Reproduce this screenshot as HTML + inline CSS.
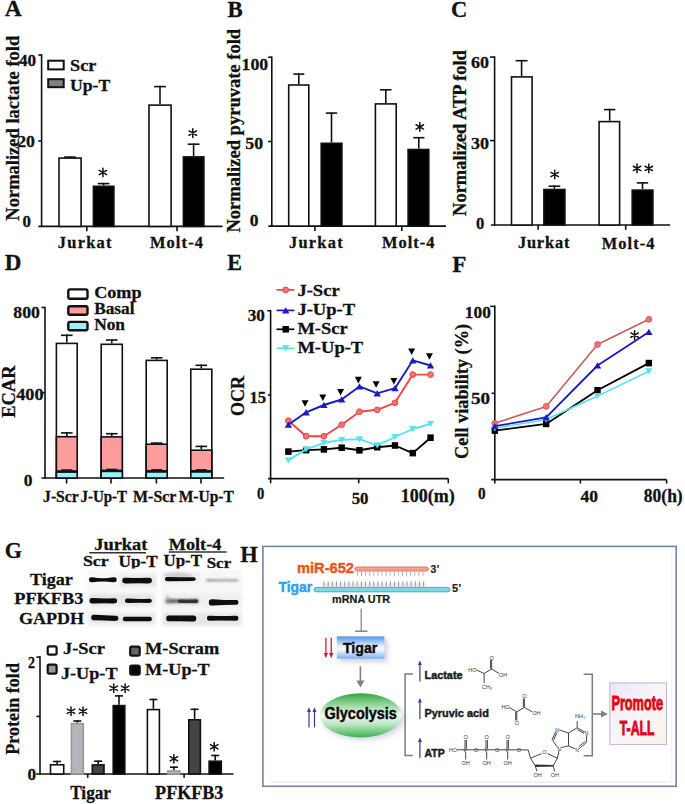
<!DOCTYPE html>
<html><head><meta charset="utf-8"><style>
html,body{margin:0;padding:0;background:#fff;}
svg{display:block;}
</style></head><body>
<svg width="685" height="804" viewBox="0 0 685 804">
<rect width="685" height="804" fill="#fff"/>
<text x="4.80" y="15.60" font-size="23.6" font-family="'Liberation Serif', serif" font-weight="bold" fill="#111" stroke="#111" stroke-width="0.28" textLength="17.10" lengthAdjust="spacingAndGlyphs" >A</text>
<text x="18.80" y="220.70" font-size="18.5" font-family="'Liberation Serif', serif" font-weight="bold" fill="#111" stroke="#111" stroke-width="0.28" textLength="185.00" lengthAdjust="spacingAndGlyphs" transform="rotate(-90 18.80 220.70)" >Normalized lactate fold</text>
<line x1="41.60" y1="54.20" x2="41.60" y2="227.20" stroke="#111" stroke-width="1.6" />
<line x1="38.30" y1="55.00" x2="41.60" y2="55.00" stroke="#111" stroke-width="1.6" />
<line x1="38.30" y1="141.00" x2="41.60" y2="141.00" stroke="#111" stroke-width="1.6" />
<line x1="38.30" y1="226.40" x2="222.50" y2="226.40" stroke="#111" stroke-width="1.6" />
<line x1="86.80" y1="226.40" x2="86.80" y2="231.20" stroke="#111" stroke-width="1.6" />
<line x1="177.00" y1="226.40" x2="177.00" y2="231.20" stroke="#111" stroke-width="1.6" />
<text x="19.00" y="65.80" font-size="17.2" font-family="'Liberation Serif', serif" font-weight="bold" fill="#111" stroke="#111" stroke-width="0.28" textLength="17.10" lengthAdjust="spacingAndGlyphs" >40</text>
<text x="17.20" y="147.40" font-size="17.2" font-family="'Liberation Serif', serif" font-weight="bold" fill="#111" stroke="#111" stroke-width="0.28" textLength="17.80" lengthAdjust="spacingAndGlyphs" >20</text>
<text x="22.60" y="227.00" font-size="17.2" font-family="'Liberation Serif', serif" font-weight="bold" fill="#111" stroke="#111" stroke-width="0.28" textLength="8.40" lengthAdjust="spacingAndGlyphs" >0</text>
<rect x="48.20" y="60.70" width="15.50" height="8.70" fill="#fff" stroke="#111" stroke-width="2" />
<rect x="48.20" y="79.20" width="15.50" height="8.00" fill="#808080" stroke="#111" stroke-width="2" />
<text x="70.10" y="71.00" font-size="17.4" font-family="'Liberation Serif', serif" font-weight="bold" fill="#111" stroke="#111" stroke-width="0.28" textLength="26.30" lengthAdjust="spacingAndGlyphs" >Scr</text>
<text x="70.00" y="91.40" font-size="17.4" font-family="'Liberation Serif', serif" font-weight="bold" fill="#111" stroke="#111" stroke-width="0.28" textLength="40.30" lengthAdjust="spacingAndGlyphs" >Up-T</text>
<rect x="59.00" y="158.10" width="22.10" height="68.30" fill="#fff" stroke="#111" stroke-width="1.6" />
<line x1="70.00" y1="157.30" x2="70.00" y2="156.30" stroke="#111" stroke-width="1.6" />
<line x1="64.10" y1="157.10" x2="75.90" y2="157.10" stroke="#111" stroke-width="1.6" />
<rect x="93.40" y="186.30" width="20.50" height="40.10" fill="#000" stroke="#111" stroke-width="1.6" />
<line x1="103.60" y1="185.50" x2="103.60" y2="182.80" stroke="#111" stroke-width="1.6" />
<line x1="97.70" y1="183.60" x2="109.50" y2="183.60" stroke="#111" stroke-width="1.6" />
<rect x="149.00" y="105.10" width="22.10" height="121.30" fill="#fff" stroke="#111" stroke-width="1.6" />
<line x1="160.00" y1="104.30" x2="160.00" y2="85.80" stroke="#111" stroke-width="1.6" />
<line x1="154.10" y1="86.60" x2="165.90" y2="86.60" stroke="#111" stroke-width="1.6" />
<rect x="183.40" y="156.90" width="20.50" height="69.50" fill="#000" stroke="#111" stroke-width="1.6" />
<line x1="193.60" y1="156.10" x2="193.60" y2="143.40" stroke="#111" stroke-width="1.6" />
<line x1="187.70" y1="144.20" x2="199.50" y2="144.20" stroke="#111" stroke-width="1.6" />
<path d="M102.90,168.20L102.90,176.80M99.18,170.35L106.62,174.65M99.18,174.65L106.62,170.35" stroke="#111" stroke-width="1.5" stroke-linecap="round" fill="none"/>
<path d="M192.80,128.80L192.80,137.40M189.08,130.95L196.52,135.25M189.08,135.25L196.52,130.95" stroke="#111" stroke-width="1.5" stroke-linecap="round" fill="none"/>
<text x="57.80" y="248.00" font-size="16.4" font-family="'Liberation Serif', serif" font-weight="bold" fill="#111" stroke="#111" stroke-width="0.28" textLength="53.70" lengthAdjust="spacing" >Jurkat</text>
<text x="149.90" y="248.20" font-size="16.4" font-family="'Liberation Serif', serif" font-weight="bold" fill="#111" stroke="#111" stroke-width="0.28" textLength="53.10" lengthAdjust="spacing" >Molt-4</text>
<text x="227.40" y="16.60" font-size="23.2" font-family="'Liberation Serif', serif" font-weight="bold" fill="#111" stroke="#111" stroke-width="0.28" textLength="15.20" lengthAdjust="spacingAndGlyphs" >B</text>
<text x="240.00" y="232.60" font-size="18.5" font-family="'Liberation Serif', serif" font-weight="bold" fill="#111" stroke="#111" stroke-width="0.28" textLength="203.70" lengthAdjust="spacingAndGlyphs" transform="rotate(-90 240.00 232.60)" >Normalized pyruvate fold</text>
<line x1="271.80" y1="56.40" x2="271.80" y2="226.90" stroke="#111" stroke-width="1.6" />
<line x1="268.10" y1="57.20" x2="271.80" y2="57.20" stroke="#111" stroke-width="1.6" />
<line x1="268.10" y1="141.50" x2="271.80" y2="141.50" stroke="#111" stroke-width="1.6" />
<line x1="268.30" y1="226.10" x2="446.00" y2="226.10" stroke="#111" stroke-width="1.6" />
<line x1="314.90" y1="226.10" x2="314.90" y2="231.00" stroke="#111" stroke-width="1.6" />
<line x1="401.80" y1="226.10" x2="401.80" y2="231.00" stroke="#111" stroke-width="1.6" />
<text x="241.60" y="69.70" font-size="17.2" font-family="'Liberation Serif', serif" font-weight="bold" fill="#111" stroke="#111" stroke-width="0.28" textLength="26.60" lengthAdjust="spacingAndGlyphs" >100</text>
<text x="245.30" y="148.50" font-size="17.2" font-family="'Liberation Serif', serif" font-weight="bold" fill="#111" stroke="#111" stroke-width="0.28" textLength="17.80" lengthAdjust="spacingAndGlyphs" >50</text>
<text x="249.80" y="226.20" font-size="17.2" font-family="'Liberation Serif', serif" font-weight="bold" fill="#111" stroke="#111" stroke-width="0.28" textLength="8.70" lengthAdjust="spacingAndGlyphs" >0</text>
<rect x="288.70" y="85.00" width="20.10" height="141.10" fill="#fff" stroke="#111" stroke-width="1.6" />
<line x1="298.80" y1="84.20" x2="298.80" y2="73.30" stroke="#111" stroke-width="1.6" />
<line x1="293.30" y1="74.10" x2="304.30" y2="74.10" stroke="#111" stroke-width="1.6" />
<rect x="321.20" y="143.30" width="20.70" height="82.80" fill="#000" stroke="#111" stroke-width="1.6" />
<line x1="331.50" y1="142.50" x2="331.50" y2="112.30" stroke="#111" stroke-width="1.6" />
<line x1="325.80" y1="113.10" x2="337.20" y2="113.10" stroke="#111" stroke-width="1.6" />
<rect x="375.40" y="103.90" width="20.80" height="122.20" fill="#fff" stroke="#111" stroke-width="1.6" />
<line x1="385.80" y1="103.10" x2="385.80" y2="89.00" stroke="#111" stroke-width="1.6" />
<line x1="380.10" y1="89.80" x2="391.50" y2="89.80" stroke="#111" stroke-width="1.6" />
<rect x="408.10" y="149.50" width="20.70" height="76.60" fill="#000" stroke="#111" stroke-width="1.6" />
<line x1="418.80" y1="148.70" x2="418.80" y2="136.90" stroke="#111" stroke-width="1.6" />
<line x1="413.20" y1="137.70" x2="424.40" y2="137.70" stroke="#111" stroke-width="1.6" />
<path d="M419.80,122.60L419.80,131.20M416.08,124.75L423.52,129.05M416.08,129.05L423.52,124.75" stroke="#111" stroke-width="1.5" stroke-linecap="round" fill="none"/>
<text x="289.00" y="248.00" font-size="16.4" font-family="'Liberation Serif', serif" font-weight="bold" fill="#111" stroke="#111" stroke-width="0.28" textLength="53.60" lengthAdjust="spacing" >Jurkat</text>
<text x="381.90" y="248.20" font-size="16.4" font-family="'Liberation Serif', serif" font-weight="bold" fill="#111" stroke="#111" stroke-width="0.28" textLength="52.50" lengthAdjust="spacing" >Molt-4</text>
<text x="451.00" y="16.60" font-size="23.4" font-family="'Liberation Serif', serif" font-weight="bold" fill="#111" stroke="#111" stroke-width="0.28" textLength="16.30" lengthAdjust="spacingAndGlyphs" >C</text>
<text x="466.00" y="215.90" font-size="18.5" font-family="'Liberation Serif', serif" font-weight="bold" fill="#111" stroke="#111" stroke-width="0.28" textLength="165.80" lengthAdjust="spacingAndGlyphs" transform="rotate(-90 466.00 215.90)" >Normalized ATP fold</text>
<line x1="494.60" y1="56.30" x2="494.60" y2="225.80" stroke="#111" stroke-width="1.6" />
<line x1="490.00" y1="57.10" x2="494.60" y2="57.10" stroke="#111" stroke-width="1.6" />
<line x1="490.00" y1="140.60" x2="494.60" y2="140.60" stroke="#111" stroke-width="1.6" />
<line x1="491.00" y1="225.00" x2="670.10" y2="225.00" stroke="#111" stroke-width="1.6" />
<line x1="538.10" y1="225.00" x2="538.10" y2="229.80" stroke="#111" stroke-width="1.6" />
<line x1="625.70" y1="225.00" x2="625.70" y2="229.80" stroke="#111" stroke-width="1.6" />
<text x="470.90" y="68.00" font-size="17.2" font-family="'Liberation Serif', serif" font-weight="bold" fill="#111" stroke="#111" stroke-width="0.28" textLength="18.00" lengthAdjust="spacingAndGlyphs" >60</text>
<text x="471.00" y="149.10" font-size="17.2" font-family="'Liberation Serif', serif" font-weight="bold" fill="#111" stroke="#111" stroke-width="0.28" textLength="18.00" lengthAdjust="spacingAndGlyphs" >30</text>
<text x="476.10" y="229.10" font-size="17.2" font-family="'Liberation Serif', serif" font-weight="bold" fill="#111" stroke="#111" stroke-width="0.28" textLength="8.30" lengthAdjust="spacingAndGlyphs" >0</text>
<rect x="511.50" y="76.90" width="20.60" height="148.10" fill="#fff" stroke="#111" stroke-width="1.6" />
<line x1="521.60" y1="76.10" x2="521.60" y2="59.90" stroke="#111" stroke-width="1.6" />
<line x1="515.65" y1="60.70" x2="527.55" y2="60.70" stroke="#111" stroke-width="1.6" />
<rect x="543.90" y="189.50" width="21.00" height="35.50" fill="#000" stroke="#111" stroke-width="1.6" />
<line x1="554.40" y1="188.70" x2="554.40" y2="185.40" stroke="#111" stroke-width="1.6" />
<line x1="548.60" y1="186.20" x2="560.20" y2="186.20" stroke="#111" stroke-width="1.6" />
<rect x="599.10" y="121.60" width="20.50" height="103.40" fill="#fff" stroke="#111" stroke-width="1.6" />
<line x1="609.70" y1="120.80" x2="609.70" y2="108.80" stroke="#111" stroke-width="1.6" />
<line x1="604.00" y1="109.60" x2="615.40" y2="109.60" stroke="#111" stroke-width="1.6" />
<rect x="632.20" y="190.10" width="20.70" height="34.90" fill="#000" stroke="#111" stroke-width="1.6" />
<line x1="642.50" y1="189.30" x2="642.50" y2="182.10" stroke="#111" stroke-width="1.6" />
<line x1="636.85" y1="182.90" x2="648.15" y2="182.90" stroke="#111" stroke-width="1.6" />
<path d="M554.70,170.20L554.70,178.80M550.98,172.35L558.42,176.65M550.98,176.65L558.42,172.35" stroke="#111" stroke-width="1.5" stroke-linecap="round" fill="none"/>
<path d="M637.00,164.10L637.00,172.70M633.28,166.25L640.72,170.55M633.28,170.55L640.72,166.25" stroke="#111" stroke-width="1.5" stroke-linecap="round" fill="none"/>
<path d="M648.80,164.10L648.80,172.70M645.08,166.25L652.52,170.55M645.08,170.55L652.52,166.25" stroke="#111" stroke-width="1.5" stroke-linecap="round" fill="none"/>
<text x="517.90" y="248.40" font-size="16.4" font-family="'Liberation Serif', serif" font-weight="bold" fill="#111" stroke="#111" stroke-width="0.28" textLength="51.50" lengthAdjust="spacing" >Jurkat</text>
<text x="601.80" y="248.60" font-size="16.4" font-family="'Liberation Serif', serif" font-weight="bold" fill="#111" stroke="#111" stroke-width="0.28" textLength="52.60" lengthAdjust="spacing" >Molt-4</text>
<text x="4.70" y="269.80" font-size="23.6" font-family="'Liberation Serif', serif" font-weight="bold" fill="#111" stroke="#111" stroke-width="0.28" textLength="16.60" lengthAdjust="spacingAndGlyphs" >D</text>
<text x="14.90" y="417.70" font-size="18.5" font-family="'Liberation Serif', serif" font-weight="bold" fill="#111" stroke="#111" stroke-width="0.28" textLength="52.20" lengthAdjust="spacingAndGlyphs" transform="rotate(-90 14.90 417.70)" >ECAR</text>
<line x1="45.00" y1="306.70" x2="45.00" y2="478.80" stroke="#111" stroke-width="1.6" />
<line x1="41.40" y1="307.50" x2="45.00" y2="307.50" stroke="#111" stroke-width="1.6" />
<line x1="41.40" y1="392.70" x2="45.00" y2="392.70" stroke="#111" stroke-width="1.6" />
<line x1="41.50" y1="478.00" x2="224.20" y2="478.00" stroke="#111" stroke-width="1.6" />
<line x1="66.60" y1="478.00" x2="66.60" y2="483.50" stroke="#111" stroke-width="1.6" />
<line x1="111.00" y1="478.00" x2="111.00" y2="483.50" stroke="#111" stroke-width="1.6" />
<line x1="156.40" y1="478.00" x2="156.40" y2="483.50" stroke="#111" stroke-width="1.6" />
<line x1="201.00" y1="478.00" x2="201.00" y2="483.50" stroke="#111" stroke-width="1.6" />
<text x="13.30" y="318.30" font-size="17.2" font-family="'Liberation Serif', serif" font-weight="bold" fill="#111" stroke="#111" stroke-width="0.28" textLength="26.60" lengthAdjust="spacingAndGlyphs" >800</text>
<text x="16.20" y="400.20" font-size="17.2" font-family="'Liberation Serif', serif" font-weight="bold" fill="#111" stroke="#111" stroke-width="0.28" textLength="27.30" lengthAdjust="spacingAndGlyphs" >400</text>
<text x="23.70" y="485.50" font-size="17.2" font-family="'Liberation Serif', serif" font-weight="bold" fill="#111" stroke="#111" stroke-width="0.28" textLength="8.70" lengthAdjust="spacingAndGlyphs" >0</text>
<rect x="68.30" y="289.40" width="19.20" height="9.40" fill="#fff" stroke="#111" stroke-width="2.4" rx="1.8"/>
<rect x="68.30" y="306.20" width="19.20" height="8.60" fill="#fc9c9c" stroke="#111" stroke-width="2.4" rx="1.8"/>
<rect x="68.30" y="321.90" width="19.20" height="8.40" fill="#98f2f8" stroke="#111" stroke-width="2.4" rx="1.8"/>
<text x="94.20" y="298.20" font-size="17" font-family="'Liberation Serif', serif" font-weight="bold" fill="#111" stroke="#111" stroke-width="0.28" textLength="47.40" lengthAdjust="spacingAndGlyphs" >Comp</text>
<text x="94.20" y="314.30" font-size="17" font-family="'Liberation Serif', serif" font-weight="bold" fill="#111" stroke="#111" stroke-width="0.28" textLength="40.30" lengthAdjust="spacingAndGlyphs" >Basal</text>
<text x="94.20" y="330.40" font-size="17" font-family="'Liberation Serif', serif" font-weight="bold" fill="#111" stroke="#111" stroke-width="0.28" textLength="30.80" lengthAdjust="spacingAndGlyphs" >Non</text>
<rect x="56.40" y="343.40" width="20.80" height="134.60" fill="#fff" stroke="#111" stroke-width="1.6" />
<line x1="66.80" y1="342.60" x2="66.80" y2="334.50" stroke="#111" stroke-width="1.6" />
<line x1="61.00" y1="335.30" x2="72.60" y2="335.30" stroke="#111" stroke-width="1.6" />
<rect x="56.40" y="436.70" width="20.80" height="41.30" fill="#fc9c9c" stroke="#111" stroke-width="1.6"/>
<line x1="66.80" y1="435.90" x2="66.80" y2="432.10" stroke="#111" stroke-width="1.6" />
<line x1="61.00" y1="432.90" x2="72.60" y2="432.90" stroke="#111" stroke-width="1.6" />
<rect x="56.40" y="472.00" width="20.80" height="6.00" fill="#98f2f8" stroke="#111" stroke-width="1.6"/>
<line x1="56.40" y1="471.40" x2="77.20" y2="471.40" stroke="#111" stroke-width="2.4" />
<line x1="61.30" y1="470.00" x2="72.30" y2="470.00" stroke="#111" stroke-width="1.4" />
<rect x="101.20" y="344.30" width="21.10" height="133.70" fill="#fff" stroke="#111" stroke-width="1.6" />
<line x1="111.75" y1="343.50" x2="111.75" y2="339.20" stroke="#111" stroke-width="1.6" />
<line x1="105.95" y1="340.00" x2="117.55" y2="340.00" stroke="#111" stroke-width="1.6" />
<rect x="101.20" y="436.90" width="21.10" height="41.10" fill="#fc9c9c" stroke="#111" stroke-width="1.6"/>
<line x1="111.75" y1="436.10" x2="111.75" y2="432.90" stroke="#111" stroke-width="1.6" />
<line x1="105.95" y1="433.70" x2="117.55" y2="433.70" stroke="#111" stroke-width="1.6" />
<rect x="101.20" y="471.40" width="21.10" height="6.60" fill="#98f2f8" stroke="#111" stroke-width="1.6"/>
<line x1="101.20" y1="470.80" x2="122.30" y2="470.80" stroke="#111" stroke-width="2.4" />
<line x1="106.25" y1="469.40" x2="117.25" y2="469.40" stroke="#111" stroke-width="1.4" />
<rect x="146.20" y="360.40" width="21.00" height="117.60" fill="#fff" stroke="#111" stroke-width="1.6" />
<line x1="156.70" y1="359.60" x2="156.70" y2="357.00" stroke="#111" stroke-width="1.6" />
<line x1="150.90" y1="357.80" x2="162.50" y2="357.80" stroke="#111" stroke-width="1.6" />
<rect x="146.20" y="444.20" width="21.00" height="33.80" fill="#fc9c9c" stroke="#111" stroke-width="1.6"/>
<line x1="156.70" y1="443.40" x2="156.70" y2="442.30" stroke="#111" stroke-width="1.6" />
<line x1="150.90" y1="443.10" x2="162.50" y2="443.10" stroke="#111" stroke-width="1.6" />
<rect x="146.20" y="471.80" width="21.00" height="6.20" fill="#98f2f8" stroke="#111" stroke-width="1.6"/>
<line x1="146.20" y1="471.20" x2="167.20" y2="471.20" stroke="#111" stroke-width="2.4" />
<line x1="151.20" y1="469.80" x2="162.20" y2="469.80" stroke="#111" stroke-width="1.4" />
<rect x="190.80" y="369.20" width="21.00" height="108.80" fill="#fff" stroke="#111" stroke-width="1.6" />
<line x1="201.30" y1="368.40" x2="201.30" y2="364.50" stroke="#111" stroke-width="1.6" />
<line x1="195.50" y1="365.30" x2="207.10" y2="365.30" stroke="#111" stroke-width="1.6" />
<rect x="190.80" y="450.20" width="21.00" height="27.80" fill="#fc9c9c" stroke="#111" stroke-width="1.6"/>
<line x1="201.30" y1="449.40" x2="201.30" y2="445.60" stroke="#111" stroke-width="1.6" />
<line x1="195.50" y1="446.40" x2="207.10" y2="446.40" stroke="#111" stroke-width="1.6" />
<rect x="190.80" y="471.80" width="21.00" height="6.20" fill="#98f2f8" stroke="#111" stroke-width="1.6"/>
<line x1="190.80" y1="471.20" x2="211.80" y2="471.20" stroke="#111" stroke-width="2.4" />
<line x1="195.80" y1="469.80" x2="206.80" y2="469.80" stroke="#111" stroke-width="1.4" />
<text x="43.10" y="501.50" font-size="16" font-family="'Liberation Serif', serif" font-weight="bold" fill="#111" stroke="#111" stroke-width="0.28" textLength="35.50" lengthAdjust="spacingAndGlyphs" >J-Scr</text>
<text x="80.40" y="501.50" font-size="16" font-family="'Liberation Serif', serif" font-weight="bold" fill="#111" stroke="#111" stroke-width="0.28" textLength="46.70" lengthAdjust="spacingAndGlyphs" >J-Up-T</text>
<text x="133.10" y="501.50" font-size="16" font-family="'Liberation Serif', serif" font-weight="bold" fill="#111" stroke="#111" stroke-width="0.28" textLength="43.30" lengthAdjust="spacingAndGlyphs" >M-Scr</text>
<text x="178.70" y="501.50" font-size="16" font-family="'Liberation Serif', serif" font-weight="bold" fill="#111" stroke="#111" stroke-width="0.28" textLength="55.20" lengthAdjust="spacingAndGlyphs" >M-Up-T</text>
<text x="227.20" y="270.10" font-size="23.6" font-family="'Liberation Serif', serif" font-weight="bold" fill="#111" stroke="#111" stroke-width="0.28" textLength="14.80" lengthAdjust="spacingAndGlyphs" >E</text>
<text x="243.80" y="416.10" font-size="18.5" font-family="'Liberation Serif', serif" font-weight="bold" fill="#111" stroke="#111" stroke-width="0.28" textLength="40.30" lengthAdjust="spacingAndGlyphs" transform="rotate(-90 243.80 416.10)" >OCR</text>
<line x1="270.60" y1="309.90" x2="270.60" y2="479.40" stroke="#111" stroke-width="1.6" />
<line x1="267.30" y1="310.70" x2="270.60" y2="310.70" stroke="#111" stroke-width="1.6" />
<line x1="267.90" y1="395.00" x2="270.60" y2="395.00" stroke="#111" stroke-width="1.6" />
<line x1="268.00" y1="478.60" x2="448.30" y2="478.60" stroke="#111" stroke-width="1.6" />
<line x1="270.60" y1="478.60" x2="270.60" y2="483.30" stroke="#111" stroke-width="1.6" />
<line x1="358.70" y1="478.60" x2="358.70" y2="483.30" stroke="#111" stroke-width="1.6" />
<line x1="448.30" y1="478.60" x2="448.30" y2="483.30" stroke="#111" stroke-width="1.6" />
<text x="247.80" y="321.30" font-size="17.2" font-family="'Liberation Serif', serif" font-weight="bold" fill="#111" stroke="#111" stroke-width="0.28" textLength="17.10" lengthAdjust="spacingAndGlyphs" >30</text>
<text x="249.50" y="403.20" font-size="17.2" font-family="'Liberation Serif', serif" font-weight="bold" fill="#111" stroke="#111" stroke-width="0.28" textLength="16.70" lengthAdjust="spacingAndGlyphs" >15</text>
<text x="256.90" y="499.10" font-size="17.2" font-family="'Liberation Serif', serif" font-weight="bold" fill="#111" stroke="#111" stroke-width="0.28" textLength="7.30" lengthAdjust="spacingAndGlyphs" >0</text>
<text x="351.70" y="503.90" font-size="17.2" font-family="'Liberation Serif', serif" font-weight="bold" fill="#111" stroke="#111" stroke-width="0.28" textLength="16.80" lengthAdjust="spacingAndGlyphs" >50</text>
<text x="400.80" y="501.50" font-size="18" font-family="'Liberation Serif', serif" font-weight="bold" fill="#111" stroke="#111" stroke-width="0.28" textLength="53.90" lengthAdjust="spacingAndGlyphs" >100(m)</text>
<polyline points="288.37,451.60 306.14,450.10 323.91,449.40 341.68,447.70 359.45,450.30 377.22,447.20 394.99,445.50 412.76,453.10 430.53,437.70" fill="none" stroke="#000" stroke-width="1.9" stroke-linejoin="round"/>
<rect x="285.17" y="448.30" width="6.4" height="6.6" fill="#000"/>
<rect x="302.94" y="446.80" width="6.4" height="6.6" fill="#000"/>
<rect x="320.71" y="446.10" width="6.4" height="6.6" fill="#000"/>
<rect x="338.48" y="444.40" width="6.4" height="6.6" fill="#000"/>
<rect x="356.25" y="447.00" width="6.4" height="6.6" fill="#000"/>
<rect x="374.02" y="443.90" width="6.4" height="6.6" fill="#000"/>
<rect x="391.79" y="442.20" width="6.4" height="6.6" fill="#000"/>
<rect x="409.56" y="449.80" width="6.4" height="6.6" fill="#000"/>
<rect x="427.33" y="434.40" width="6.4" height="6.6" fill="#000"/>
<polyline points="288.37,460.40 306.14,449.40 323.91,442.80 341.68,439.90 359.45,439.20 377.22,445.30 394.99,437.00 412.76,429.00 430.53,423.90" fill="none" stroke="#58e2ee" stroke-width="1.9" stroke-linejoin="round"/>
<polygon points="284.77,457.40 291.97,457.40 288.37,463.60" fill="#58e2ee"/>
<polygon points="302.54,446.40 309.74,446.40 306.14,452.60" fill="#58e2ee"/>
<polygon points="320.31,439.80 327.51,439.80 323.91,446.00" fill="#58e2ee"/>
<polygon points="338.08,436.90 345.28,436.90 341.68,443.10" fill="#58e2ee"/>
<polygon points="355.85,436.20 363.05,436.20 359.45,442.40" fill="#58e2ee"/>
<polygon points="373.62,442.30 380.82,442.30 377.22,448.50" fill="#58e2ee"/>
<polygon points="391.39,434.00 398.59,434.00 394.99,440.20" fill="#58e2ee"/>
<polygon points="409.16,426.00 416.36,426.00 412.76,432.20" fill="#58e2ee"/>
<polygon points="426.93,420.90 434.13,420.90 430.53,427.10" fill="#58e2ee"/>
<polyline points="288.37,420.70 306.14,436.20 323.91,436.20 341.68,424.70 359.45,411.70 377.22,409.80 394.99,402.80 412.76,374.60 430.53,374.60" fill="none" stroke="#ec4646" stroke-width="1.9" stroke-linejoin="round"/>
<circle cx="288.37" cy="420.70" r="2.9" fill="#f67272" stroke="#ec4646" stroke-width="1.0"/>
<circle cx="306.14" cy="436.20" r="2.9" fill="#f67272" stroke="#ec4646" stroke-width="1.0"/>
<circle cx="323.91" cy="436.20" r="2.9" fill="#f67272" stroke="#ec4646" stroke-width="1.0"/>
<circle cx="341.68" cy="424.70" r="2.9" fill="#f67272" stroke="#ec4646" stroke-width="1.0"/>
<circle cx="359.45" cy="411.70" r="2.9" fill="#f67272" stroke="#ec4646" stroke-width="1.0"/>
<circle cx="377.22" cy="409.80" r="2.9" fill="#f67272" stroke="#ec4646" stroke-width="1.0"/>
<circle cx="394.99" cy="402.80" r="2.9" fill="#f67272" stroke="#ec4646" stroke-width="1.0"/>
<circle cx="412.76" cy="374.60" r="2.9" fill="#f67272" stroke="#ec4646" stroke-width="1.0"/>
<circle cx="430.53" cy="374.60" r="2.9" fill="#f67272" stroke="#ec4646" stroke-width="1.0"/>
<polyline points="288.37,424.70 306.14,412.30 323.91,405.00 341.68,399.50 359.45,386.40 377.22,393.30 394.99,388.20 412.76,360.40 430.53,365.50" fill="none" stroke="#1a1ac4" stroke-width="1.9" stroke-linejoin="round"/>
<polygon points="284.67,427.80 292.07,427.80 288.37,421.50" fill="#1a1ac4"/>
<polygon points="302.44,415.40 309.84,415.40 306.14,409.10" fill="#1a1ac4"/>
<polygon points="320.21,408.10 327.61,408.10 323.91,401.80" fill="#1a1ac4"/>
<polygon points="337.98,402.60 345.38,402.60 341.68,396.30" fill="#1a1ac4"/>
<polygon points="355.75,389.50 363.15,389.50 359.45,383.20" fill="#1a1ac4"/>
<polygon points="373.52,396.40 380.92,396.40 377.22,390.10" fill="#1a1ac4"/>
<polygon points="391.29,391.30 398.69,391.30 394.99,385.00" fill="#1a1ac4"/>
<polygon points="409.06,363.50 416.46,363.50 412.76,357.20" fill="#1a1ac4"/>
<polygon points="426.83,368.60 434.23,368.60 430.53,362.30" fill="#1a1ac4"/>
<polygon points="301.54,400.20 308.54,400.20 305.04,406.80" fill="#000"/>
<polygon points="319.31,394.50 326.31,394.50 322.81,401.10" fill="#000"/>
<polygon points="337.08,388.90 344.08,388.90 340.58,395.50" fill="#000"/>
<polygon points="354.85,376.80 361.85,376.80 358.35,383.40" fill="#000"/>
<polygon points="372.62,381.20 379.62,381.20 376.12,387.80" fill="#000"/>
<polygon points="390.39,378.00 397.39,378.00 393.89,384.60" fill="#000"/>
<polygon points="408.16,348.40 415.16,348.40 411.66,355.00" fill="#000"/>
<polygon points="425.93,353.20 432.93,353.20 429.43,359.80" fill="#000"/>
<line x1="276.50" y1="289.90" x2="294.40" y2="289.90" stroke="#ec4646" stroke-width="1.7" />
<circle cx="285.70" cy="289.90" r="2.9" fill="#f67272" stroke="#ec4646" stroke-width="1.0"/>
<text x="297.40" y="295.80" font-size="17.3" font-family="'Liberation Serif', serif" font-weight="bold" fill="#111" stroke="#111" stroke-width="0.28" textLength="42.30" lengthAdjust="spacingAndGlyphs" >J-Scr</text>
<line x1="276.50" y1="310.40" x2="294.40" y2="310.40" stroke="#1a1ac4" stroke-width="1.7" />
<polygon points="282.00,313.50 289.40,313.50 285.70,307.20" fill="#1a1ac4"/>
<text x="297.40" y="314.80" font-size="17.3" font-family="'Liberation Serif', serif" font-weight="bold" fill="#111" stroke="#111" stroke-width="0.28" textLength="57.80" lengthAdjust="spacingAndGlyphs" >J-Up-T</text>
<line x1="276.50" y1="329.30" x2="294.40" y2="329.30" stroke="#000" stroke-width="1.7" />
<rect x="282.50" y="326.00" width="6.4" height="6.6" fill="#000"/>
<text x="297.40" y="334.30" font-size="17.3" font-family="'Liberation Serif', serif" font-weight="bold" fill="#111" stroke="#111" stroke-width="0.28" textLength="50.20" lengthAdjust="spacingAndGlyphs" >M-Scr</text>
<line x1="276.50" y1="348.30" x2="294.40" y2="348.30" stroke="#58e2ee" stroke-width="1.7" />
<polygon points="282.10,345.30 289.30,345.30 285.70,351.50" fill="#58e2ee"/>
<text x="297.40" y="352.80" font-size="17.3" font-family="'Liberation Serif', serif" font-weight="bold" fill="#111" stroke="#111" stroke-width="0.28" textLength="65.80" lengthAdjust="spacingAndGlyphs" >M-Up-T</text>
<text x="452.20" y="271.60" font-size="23.6" font-family="'Liberation Serif', serif" font-weight="bold" fill="#111" stroke="#111" stroke-width="0.28" textLength="14.20" lengthAdjust="spacingAndGlyphs" >F</text>
<text x="467.60" y="458.90" font-size="18.5" font-family="'Liberation Serif', serif" font-weight="bold" fill="#111" stroke="#111" stroke-width="0.28" textLength="134.90" lengthAdjust="spacingAndGlyphs" transform="rotate(-90 467.60 458.90)" >Cell viability (%)</text>
<line x1="494.80" y1="305.60" x2="494.80" y2="480.40" stroke="#111" stroke-width="1.6" />
<line x1="490.20" y1="306.40" x2="494.80" y2="306.40" stroke="#111" stroke-width="1.6" />
<line x1="491.50" y1="393.30" x2="494.80" y2="393.30" stroke="#111" stroke-width="1.6" />
<line x1="491.20" y1="479.60" x2="666.60" y2="479.60" stroke="#111" stroke-width="1.6" />
<line x1="494.80" y1="479.60" x2="494.80" y2="483.50" stroke="#111" stroke-width="1.6" />
<line x1="580.40" y1="479.60" x2="580.40" y2="483.50" stroke="#111" stroke-width="1.6" />
<line x1="666.60" y1="479.60" x2="666.60" y2="483.50" stroke="#111" stroke-width="1.6" />
<text x="464.80" y="317.90" font-size="17.2" font-family="'Liberation Serif', serif" font-weight="bold" fill="#111" stroke="#111" stroke-width="0.28" textLength="26.00" lengthAdjust="spacingAndGlyphs" >100</text>
<text x="471.00" y="404.00" font-size="17.2" font-family="'Liberation Serif', serif" font-weight="bold" fill="#111" stroke="#111" stroke-width="0.28" textLength="19.10" lengthAdjust="spacingAndGlyphs" >50</text>
<text x="478.00" y="499.10" font-size="17.2" font-family="'Liberation Serif', serif" font-weight="bold" fill="#111" stroke="#111" stroke-width="0.28" textLength="7.60" lengthAdjust="spacingAndGlyphs" >0</text>
<text x="580.40" y="502.20" font-size="17.2" font-family="'Liberation Serif', serif" font-weight="bold" fill="#111" stroke="#111" stroke-width="0.28" textLength="17.50" lengthAdjust="spacingAndGlyphs" >40</text>
<text x="643.80" y="501.70" font-size="18" font-family="'Liberation Serif', serif" font-weight="bold" fill="#111" stroke="#111" stroke-width="0.28" textLength="38.90" lengthAdjust="spacingAndGlyphs" >80(h)</text>
<polyline points="494.80,423.30 546.16,406.40 597.52,344.50 648.88,319.30" fill="none" stroke="#cc5c5c" stroke-width="1.6" stroke-linejoin="round"/>
<circle cx="494.80" cy="423.30" r="2.9" fill="#f67272" stroke="#cc5c5c" stroke-width="1.0"/>
<circle cx="546.16" cy="406.40" r="2.9" fill="#f67272" stroke="#cc5c5c" stroke-width="1.0"/>
<circle cx="597.52" cy="344.50" r="2.9" fill="#f67272" stroke="#cc5c5c" stroke-width="1.0"/>
<circle cx="648.88" cy="319.30" r="2.9" fill="#f67272" stroke="#cc5c5c" stroke-width="1.0"/>
<polyline points="494.80,430.60 546.16,423.90 597.52,390.30 648.88,363.10" fill="none" stroke="#000" stroke-width="1.8" stroke-linejoin="round"/>
<rect x="491.60" y="427.30" width="6.4" height="6.6" fill="#000"/>
<rect x="542.96" y="420.60" width="6.4" height="6.6" fill="#000"/>
<rect x="594.32" y="387.00" width="6.4" height="6.6" fill="#000"/>
<rect x="645.68" y="359.80" width="6.4" height="6.6" fill="#000"/>
<polyline points="494.80,428.20 546.16,419.50 597.52,396.10 648.88,371.30" fill="none" stroke="#58e2ee" stroke-width="1.6" stroke-linejoin="round"/>
<polygon points="491.20,425.20 498.40,425.20 494.80,431.40" fill="#58e2ee"/>
<polygon points="542.56,416.50 549.76,416.50 546.16,422.70" fill="#58e2ee"/>
<polygon points="593.92,393.10 601.12,393.10 597.52,399.30" fill="#58e2ee"/>
<polygon points="645.28,368.30 652.48,368.30 648.88,374.50" fill="#58e2ee"/>
<polyline points="494.80,426.20 546.16,417.40 597.52,365.50 648.88,331.90" fill="none" stroke="#1a1ac4" stroke-width="1.8" stroke-linejoin="round"/>
<polygon points="491.10,429.30 498.50,429.30 494.80,423.00" fill="#1a1ac4"/>
<polygon points="542.46,420.50 549.86,420.50 546.16,414.20" fill="#1a1ac4"/>
<polygon points="593.82,368.60 601.22,368.60 597.52,362.30" fill="#1a1ac4"/>
<polygon points="645.18,335.00 652.58,335.00 648.88,328.70" fill="#1a1ac4"/>
<path d="M634.60,330.80L634.60,339.40M630.88,332.95L638.32,337.25M630.88,337.25L638.32,332.95" stroke="#111" stroke-width="1.5" stroke-linecap="round" fill="none"/>
<text x="4.70" y="558.40" font-size="23.6" font-family="'Liberation Serif', serif" font-weight="bold" fill="#111" stroke="#111" stroke-width="0.28" textLength="17.20" lengthAdjust="spacingAndGlyphs" >G</text>
<text x="94.20" y="550.20" font-size="16.8" font-family="'Liberation Serif', serif" font-weight="bold" fill="#111" stroke="#111" stroke-width="0.28" textLength="53.30" lengthAdjust="spacingAndGlyphs" >Jurkat</text>
<line x1="89.30" y1="552.80" x2="146.00" y2="552.80" stroke="#333" stroke-width="1.5" />
<text x="168.80" y="550.20" font-size="16.8" font-family="'Liberation Serif', serif" font-weight="bold" fill="#111" stroke="#111" stroke-width="0.28" textLength="52.50" lengthAdjust="spacingAndGlyphs" >Molt-4</text>
<line x1="168.80" y1="552.00" x2="226.60" y2="552.00" stroke="#333" stroke-width="1.5" />
<text x="82.90" y="566.00" font-size="15.2" font-family="'Liberation Serif', serif" font-weight="bold" fill="#111" stroke="#111" stroke-width="0.28" textLength="25.70" lengthAdjust="spacingAndGlyphs" >Scr</text>
<text x="118.50" y="567.30" font-size="16" font-family="'Liberation Serif', serif" font-weight="bold" fill="#111" stroke="#111" stroke-width="0.28" textLength="39.20" lengthAdjust="spacingAndGlyphs" >Up-T</text>
<text x="163.50" y="566.10" font-size="16" font-family="'Liberation Serif', serif" font-weight="bold" fill="#111" stroke="#111" stroke-width="0.28" textLength="38.50" lengthAdjust="spacingAndGlyphs" >Up-T</text>
<text x="206.70" y="567.70" font-size="14.6" font-family="'Liberation Serif', serif" font-weight="bold" fill="#111" stroke="#111" stroke-width="0.28" textLength="24.50" lengthAdjust="spacingAndGlyphs" >Scr</text>
<rect x="86" y="568.7" width="158" height="60" fill="#fff"/>
<text x="30.00" y="585.40" font-size="17.3" font-family="'Liberation Serif', serif" font-weight="bold" fill="#111" stroke="#111" stroke-width="0.28" textLength="42.90" lengthAdjust="spacingAndGlyphs" >Tigar</text>
<text x="14.20" y="604.40" font-size="17" font-family="'Liberation Serif', serif" font-weight="bold" fill="#111" stroke="#111" stroke-width="0.28" textLength="69.20" lengthAdjust="spacingAndGlyphs" >PFKFB3</text>
<text x="19.10" y="623.50" font-size="17" font-family="'Liberation Serif', serif" font-weight="bold" fill="#111" stroke="#111" stroke-width="0.28" textLength="65.00" lengthAdjust="spacingAndGlyphs" >GAPDH</text>
<defs><filter id="bl" x="-20%" y="-80%" width="140%" height="260%"><feGaussianBlur stdDeviation="0.65"/></filter><filter id="blb" x="-20%" y="-80%" width="140%" height="260%"><feGaussianBlur stdDeviation="1.3"/></filter><filter id="bl2" x="-20%" y="-50%" width="140%" height="200%"><feGaussianBlur stdDeviation="1.6"/></filter></defs>
<g filter="url(#bl2)"><rect x="87" y="570" width="70" height="57" fill="#f8f8f8"/><rect x="161" y="570" width="82" height="57" fill="#f7f7f7"/></g>
<g filter="url(#bl2)" fill="#e6e6e6"><rect x="120" y="575.5" width="36" height="10.5"/><rect x="88.5" y="594" width="65" height="12"/><rect x="89" y="613.5" width="66" height="10"/><rect x="162.5" y="573" width="37" height="10" fill="#ececec"/><rect x="163" y="594" width="78" height="13" fill="#efefef"/><rect x="163" y="613" width="78" height="12"/></g>
<path d="M89.00,579.80 C89.00,577.30 91.00,577.30 92.50,577.30 Q102.85,579.00 113.20,577.30 C114.70,577.30 116.70,577.30 116.70,579.80 C116.70,582.30 114.70,582.30 113.20,582.30 Q102.85,580.60 92.50,582.30 C91.00,582.30 89.00,582.30 89.00,579.80Z" fill="#0c0c0c" filter="url(#bl)"/>
<path d="M122.30,580.60 C122.30,577.70 124.30,577.70 126.20,577.70 Q137.10,578.00 148.10,577.80 C149.90,577.80 151.90,577.80 151.90,580.60 C151.90,583.40 149.90,583.40 148.10,583.40 Q137.10,583.20 126.20,583.50 C124.30,583.50 122.30,583.50 122.30,580.60Z" fill="#0c0c0c" filter="url(#bl)"/>
<ellipse cx="178" cy="575.5" rx="14" ry="3" fill="#cfcfcf" filter="url(#blb)"/>
<path d="M164.90,579.10 C164.90,576.90 166.90,576.90 168.10,576.90 Q180.30,577.10 192.80,577.20 C193.70,577.20 195.70,577.20 195.70,579.10 C195.70,581.00 193.70,581.00 192.80,581.00 Q180.30,581.10 168.10,581.30 C166.90,581.30 164.90,581.30 164.90,579.10Z" fill="#0c0c0c" filter="url(#bl)"/>
<path d="M205.70,580.30 C205.70,579.00 207.70,579.00 208.00,579.00 Q222.05,579.60 236.30,579.20 C236.40,579.20 238.40,579.20 238.40,580.30 C238.40,581.40 236.40,581.40 236.30,581.40 Q222.05,581.00 208.00,581.60 C207.70,581.60 205.70,581.60 205.70,580.30Z" fill="#9a9a9a" filter="url(#blb)"/>
<path d="M89.50,600.80 C89.50,598.10 91.50,598.10 93.20,598.10 Q103.30,598.60 113.50,598.20 C115.10,598.20 117.10,598.20 117.10,600.80 C117.10,603.40 115.10,603.40 113.50,603.40 Q103.30,603.00 93.20,603.50 C91.50,603.50 89.50,603.50 89.50,600.80Z" fill="#0c0c0c" filter="url(#bl)"/>
<path d="M125.00,600.80 C125.00,598.60 127.00,598.60 128.20,598.60 Q138.45,599.20 148.80,598.70 C149.90,598.70 151.90,598.70 151.90,600.80 C151.90,602.90 149.90,602.90 148.80,602.90 Q138.45,602.40 128.20,603.00 C127.00,603.00 125.00,603.00 125.00,600.80Z" fill="#0c0c0c" filter="url(#bl)"/>
<path d="M165.50,601.00 C165.50,598.70 167.50,598.70 168.80,598.70 Q182.15,599.20 195.60,598.80 C196.80,598.80 198.80,598.80 198.80,601.00 C198.80,603.20 196.80,603.20 195.60,603.20 Q182.15,602.80 168.80,603.30 C167.50,603.30 165.50,603.30 165.50,601.00Z" fill="#6a6a6a" filter="url(#blb)"/>
<path d="M178.00,601.30 C178.00,599.50 180.00,599.50 180.80,599.50 Q188.00,599.80 195.20,599.50 C196.00,599.50 198.00,599.50 198.00,601.30 C198.00,603.10 196.00,603.10 195.20,603.10 Q188.00,602.80 180.80,603.10 C180.00,603.10 178.00,603.10 178.00,601.30Z" fill="#303030" filter="url(#bl)"/>
<path d="M166,595 L170,598 L168,602 Z" fill="#aaa" filter="url(#blb)"/>
<path d="M208.80,602.40 C208.80,599.20 210.80,599.20 213.00,599.20 Q223.60,600.10 235.10,600.10 C236.40,600.10 238.40,600.10 238.40,602.40 C238.40,604.70 236.40,604.70 235.10,604.70 Q223.60,604.70 213.00,605.60 C210.80,605.60 208.80,605.60 208.80,602.40Z" fill="#0c0c0c" filter="url(#bl)"/>
<path d="M91.20,617.50 C91.20,614.70 93.20,614.70 95.00,614.70 Q104.80,615.40 114.80,615.70 C116.40,615.70 118.40,615.70 118.40,618.30 C118.40,620.90 116.40,620.90 114.80,620.90 Q104.80,620.40 95.00,620.30 C93.20,620.30 91.20,620.30 91.20,617.50Z" fill="#0c0c0c" filter="url(#bl)"/>
<path d="M122.80,619.00 C122.80,616.70 124.80,616.70 126.10,616.70 Q137.35,617.00 148.60,616.70 C149.90,616.70 151.90,616.70 151.90,619.00 C151.90,621.30 149.90,621.30 148.60,621.30 Q137.35,621.00 126.10,621.30 C124.80,621.30 122.80,621.30 122.80,619.00Z" fill="#0c0c0c" filter="url(#bl)"/>
<path d="M166.20,618.40 C166.20,615.50 168.20,615.50 170.10,615.50 Q181.25,615.70 192.30,615.40 C194.30,615.40 196.30,615.40 196.30,618.40 C196.30,621.40 194.30,621.40 192.30,621.40 Q181.25,621.10 170.10,621.30 C168.20,621.30 166.20,621.30 166.20,618.40Z" fill="#0c0c0c" filter="url(#bl)"/>
<path d="M207.00,618.20 C207.00,615.70 209.00,615.70 210.50,615.70 Q222.70,616.20 234.90,615.70 C236.40,615.70 238.40,615.70 238.40,618.20 C238.40,620.70 236.40,620.70 234.90,620.70 Q222.70,620.20 210.50,620.70 C209.00,620.70 207.00,620.70 207.00,618.20Z" fill="#0c0c0c" filter="url(#bl)"/>
<text x="19.00" y="754.80" font-size="18.5" font-family="'Liberation Serif', serif" font-weight="bold" fill="#111" stroke="#111" stroke-width="0.28" textLength="91.80" lengthAdjust="spacingAndGlyphs" transform="rotate(-90 19.00 754.80)" >Protein fold</text>
<line x1="40.00" y1="656.30" x2="40.00" y2="774.80" stroke="#111" stroke-width="1.6" />
<line x1="36.40" y1="657.10" x2="40.00" y2="657.10" stroke="#111" stroke-width="1.6" />
<line x1="36.40" y1="716.40" x2="40.00" y2="716.40" stroke="#111" stroke-width="1.6" />
<line x1="36.10" y1="774.00" x2="233.50" y2="774.00" stroke="#111" stroke-width="1.6" />
<line x1="87.70" y1="774.00" x2="87.70" y2="777.80" stroke="#111" stroke-width="1.6" />
<line x1="184.10" y1="774.00" x2="184.10" y2="777.80" stroke="#111" stroke-width="1.6" />
<text x="28.10" y="667.50" font-size="17.2" font-family="'Liberation Serif', serif" font-weight="bold" fill="#111" stroke="#111" stroke-width="0.28" textLength="7.00" lengthAdjust="spacingAndGlyphs" >2</text>
<text x="27.50" y="780.20" font-size="17.2" font-family="'Liberation Serif', serif" font-weight="bold" fill="#111" stroke="#111" stroke-width="0.28" textLength="8.60" lengthAdjust="spacingAndGlyphs" >0</text>
<rect x="47.70" y="646.30" width="8.90" height="8.30" fill="#fff" stroke="#111" stroke-width="2.2" rx="1.6"/>
<rect x="47.70" y="664.70" width="8.90" height="9.00" fill="#999" stroke="#111" stroke-width="2.2" rx="1.6"/>
<rect x="130.20" y="646.60" width="9.50" height="9.00" fill="#666" stroke="#111" stroke-width="2.2" rx="1.6"/>
<rect x="130.20" y="665.60" width="9.50" height="9.00" fill="#000" stroke="#111" stroke-width="2.2" rx="1.6"/>
<text x="63.00" y="653.70" font-size="17" font-family="'Liberation Serif', serif" font-weight="bold" fill="#111" stroke="#111" stroke-width="0.28" textLength="42.00" lengthAdjust="spacingAndGlyphs" >J-Scr</text>
<text x="61.00" y="678.70" font-size="17" font-family="'Liberation Serif', serif" font-weight="bold" fill="#111" stroke="#111" stroke-width="0.28" textLength="56.50" lengthAdjust="spacingAndGlyphs" >J-Up-T</text>
<text x="145.10" y="653.80" font-size="17" font-family="'Liberation Serif', serif" font-weight="bold" fill="#111" stroke="#111" stroke-width="0.28" textLength="74.10" lengthAdjust="spacingAndGlyphs" >M-Scram</text>
<text x="145.10" y="675.40" font-size="17" font-family="'Liberation Serif', serif" font-weight="bold" fill="#111" stroke="#111" stroke-width="0.28" textLength="64.60" lengthAdjust="spacingAndGlyphs" >M-Up-T</text>
<line x1="57.10" y1="764.00" x2="57.10" y2="760.70" stroke="#111" stroke-width="1.6" />
<line x1="53.10" y1="761.50" x2="61.10" y2="761.50" stroke="#111" stroke-width="1.6" />
<rect x="50.50" y="764.80" width="13.20" height="9.20" fill="#fff" stroke="#111" stroke-width="1.6" />
<line x1="77.35" y1="722.80" x2="77.35" y2="720.20" stroke="#111" stroke-width="1.6" />
<line x1="73.35" y1="721.00" x2="81.35" y2="721.00" stroke="#111" stroke-width="1.6" />
<rect x="71.40" y="723.60" width="11.90" height="50.40" fill="#b4b4bc" stroke="#999" stroke-width="1.6" />
<line x1="98.15" y1="764.10" x2="98.15" y2="760.40" stroke="#111" stroke-width="1.6" />
<line x1="94.15" y1="761.20" x2="102.15" y2="761.20" stroke="#111" stroke-width="1.6" />
<rect x="92.30" y="764.90" width="11.70" height="9.10" fill="#444" stroke="#111" stroke-width="1.6" />
<line x1="119.00" y1="704.80" x2="119.00" y2="695.10" stroke="#111" stroke-width="1.6" />
<line x1="115.00" y1="695.90" x2="123.00" y2="695.90" stroke="#111" stroke-width="1.6" />
<rect x="113.20" y="705.60" width="11.60" height="68.40" fill="#000" stroke="#111" stroke-width="1.6" />
<line x1="153.40" y1="708.80" x2="153.40" y2="698.70" stroke="#111" stroke-width="1.6" />
<line x1="149.40" y1="699.50" x2="157.40" y2="699.50" stroke="#111" stroke-width="1.6" />
<rect x="147.40" y="709.60" width="12.00" height="64.40" fill="#fff" stroke="#111" stroke-width="1.6" />
<line x1="173.90" y1="770.20" x2="173.90" y2="766.40" stroke="#111" stroke-width="1.6" />
<line x1="169.90" y1="767.20" x2="177.90" y2="767.20" stroke="#111" stroke-width="1.6" />
<rect x="167.90" y="771.00" width="12.00" height="3.00" fill="#b4b4bc" stroke="#999" stroke-width="1.6" />
<line x1="194.60" y1="719.00" x2="194.60" y2="708.50" stroke="#111" stroke-width="1.6" />
<line x1="190.60" y1="709.30" x2="198.60" y2="709.30" stroke="#111" stroke-width="1.6" />
<rect x="188.80" y="719.80" width="11.60" height="54.20" fill="#444" stroke="#111" stroke-width="1.6" />
<line x1="215.20" y1="760.40" x2="215.20" y2="754.70" stroke="#111" stroke-width="1.6" />
<line x1="211.20" y1="755.50" x2="219.20" y2="755.50" stroke="#111" stroke-width="1.6" />
<rect x="209.10" y="761.20" width="12.20" height="12.80" fill="#000" stroke="#111" stroke-width="1.6" />
<path d="M71.00,706.90L71.00,715.50M67.28,709.05L74.72,713.35M67.28,713.35L74.72,709.05" stroke="#111" stroke-width="1.5" stroke-linecap="round" fill="none"/>
<path d="M83.00,706.90L83.00,715.50M79.28,709.05L86.72,713.35M79.28,713.35L86.72,709.05" stroke="#111" stroke-width="1.5" stroke-linecap="round" fill="none"/>
<path d="M113.70,683.90L113.70,692.50M109.98,686.05L117.42,690.35M109.98,690.35L117.42,686.05" stroke="#111" stroke-width="1.5" stroke-linecap="round" fill="none"/>
<path d="M125.10,683.90L125.10,692.50M121.38,686.05L128.82,690.35M121.38,690.35L128.82,686.05" stroke="#111" stroke-width="1.5" stroke-linecap="round" fill="none"/>
<path d="M173.90,754.40L173.90,763.00M170.18,756.55L177.62,760.85M170.18,760.85L177.62,756.55" stroke="#111" stroke-width="1.5" stroke-linecap="round" fill="none"/>
<path d="M214.20,742.50L214.20,751.10M210.48,744.65L217.92,748.95M210.48,748.95L217.92,744.65" stroke="#111" stroke-width="1.5" stroke-linecap="round" fill="none"/>
<text x="70.20" y="798.70" font-size="18" font-family="'Liberation Serif', serif" font-weight="bold" fill="#111" stroke="#111" stroke-width="0.28" textLength="40.80" lengthAdjust="spacingAndGlyphs" >Tigar</text>
<text x="155.10" y="798.70" font-size="18" font-family="'Liberation Serif', serif" font-weight="bold" fill="#111" stroke="#111" stroke-width="0.28" textLength="68.30" lengthAdjust="spacingAndGlyphs" >PFKFB3</text>
<text x="240.30" y="562.00" font-size="23.6" font-family="'Liberation Serif', serif" font-weight="bold" fill="#111" stroke="#111" stroke-width="0.28" textLength="17.50" lengthAdjust="spacingAndGlyphs" >H</text>
<rect x="262.9" y="546.4" width="413.3" height="239.9" fill="none" stroke="#6f85a0" stroke-width="1.6"/>
<line x1="270.70" y1="782.00" x2="671.80" y2="782.00" stroke="#e4e4e4" stroke-width="1" />
<line x1="671.80" y1="552.80" x2="671.80" y2="782.00" stroke="#eee" stroke-width="1" />
<text x="297.00" y="573.30" font-size="14" font-family="'Liberation Sans', sans-serif" font-weight="bold" fill="#e8561f" stroke="#e8561f" stroke-width="0.45" textLength="57.00" lengthAdjust="spacingAndGlyphs" >miR-652</text>
<rect x="354.8" y="567.0" width="73.6" height="4.0" rx="2.0" fill="#f5a088" stroke="#e27272" stroke-width="1"/>
<line x1="357.40" y1="571.60" x2="357.40" y2="575.80" stroke="#b0a8c0" stroke-width="0.9" />
<line x1="361.50" y1="571.60" x2="361.50" y2="575.80" stroke="#a09ab8" stroke-width="0.9" />
<line x1="365.60" y1="571.60" x2="365.60" y2="575.80" stroke="#b0a8c0" stroke-width="0.9" />
<line x1="369.70" y1="571.60" x2="369.70" y2="575.80" stroke="#a09ab8" stroke-width="0.9" />
<line x1="373.80" y1="571.60" x2="373.80" y2="575.80" stroke="#b0a8c0" stroke-width="0.9" />
<line x1="377.90" y1="571.60" x2="377.90" y2="575.80" stroke="#a09ab8" stroke-width="0.9" />
<line x1="382.00" y1="571.60" x2="382.00" y2="575.80" stroke="#b0a8c0" stroke-width="0.9" />
<line x1="386.10" y1="571.60" x2="386.10" y2="575.80" stroke="#a09ab8" stroke-width="0.9" />
<line x1="390.20" y1="571.60" x2="390.20" y2="575.80" stroke="#b0a8c0" stroke-width="0.9" />
<line x1="394.30" y1="571.60" x2="394.30" y2="575.80" stroke="#a09ab8" stroke-width="0.9" />
<line x1="398.40" y1="571.60" x2="398.40" y2="575.80" stroke="#b0a8c0" stroke-width="0.9" />
<line x1="402.50" y1="571.60" x2="402.50" y2="575.80" stroke="#a09ab8" stroke-width="0.9" />
<line x1="406.60" y1="571.60" x2="406.60" y2="575.80" stroke="#b0a8c0" stroke-width="0.9" />
<line x1="410.70" y1="571.60" x2="410.70" y2="575.80" stroke="#a09ab8" stroke-width="0.9" />
<line x1="414.80" y1="571.60" x2="414.80" y2="575.80" stroke="#b0a8c0" stroke-width="0.9" />
<line x1="418.90" y1="571.60" x2="418.90" y2="575.80" stroke="#a09ab8" stroke-width="0.9" />
<line x1="423.00" y1="571.60" x2="423.00" y2="575.80" stroke="#b0a8c0" stroke-width="0.9" />
<text x="430.60" y="572.80" font-size="10.5" font-family="'Liberation Sans', sans-serif" font-weight="bold" fill="#222" textLength="8.70" lengthAdjust="spacingAndGlyphs" stroke="#222" stroke-width="0.2">3’</text>
<text x="278.40" y="592.00" font-size="14" font-family="'Liberation Sans', sans-serif" font-weight="bold" fill="#309fe8" stroke="#309fe8" stroke-width="0.45" textLength="33.80" lengthAdjust="spacingAndGlyphs" >Tigar</text>
<rect x="322" y="583.2" width="104" height="3.6" fill="#fbe6ee"/>
<line x1="324.00" y1="581.30" x2="324.00" y2="586.40" stroke="#8c8c96" stroke-width="0.9" />
<line x1="328.15" y1="581.30" x2="328.15" y2="586.40" stroke="#8c8c96" stroke-width="0.9" />
<line x1="332.30" y1="581.30" x2="332.30" y2="586.40" stroke="#8c8c96" stroke-width="0.9" />
<line x1="336.45" y1="581.30" x2="336.45" y2="586.40" stroke="#8c8c96" stroke-width="0.9" />
<line x1="340.60" y1="581.30" x2="340.60" y2="586.40" stroke="#8c8c96" stroke-width="0.9" />
<line x1="344.75" y1="581.30" x2="344.75" y2="586.40" stroke="#8c8c96" stroke-width="0.9" />
<line x1="348.90" y1="581.30" x2="348.90" y2="586.40" stroke="#8c8c96" stroke-width="0.9" />
<line x1="353.05" y1="581.30" x2="353.05" y2="586.40" stroke="#8c8c96" stroke-width="0.9" />
<line x1="357.20" y1="581.30" x2="357.20" y2="586.40" stroke="#8c8c96" stroke-width="0.9" />
<line x1="361.35" y1="581.30" x2="361.35" y2="586.40" stroke="#8c8c96" stroke-width="0.9" />
<line x1="365.50" y1="581.30" x2="365.50" y2="586.40" stroke="#8c8c96" stroke-width="0.9" />
<line x1="369.65" y1="581.30" x2="369.65" y2="586.40" stroke="#8c8c96" stroke-width="0.9" />
<line x1="373.80" y1="581.30" x2="373.80" y2="586.40" stroke="#8c8c96" stroke-width="0.9" />
<line x1="377.95" y1="581.30" x2="377.95" y2="586.40" stroke="#8c8c96" stroke-width="0.9" />
<line x1="382.10" y1="581.30" x2="382.10" y2="586.40" stroke="#8c8c96" stroke-width="0.9" />
<line x1="386.25" y1="581.30" x2="386.25" y2="586.40" stroke="#8c8c96" stroke-width="0.9" />
<line x1="390.40" y1="581.30" x2="390.40" y2="586.40" stroke="#8c8c96" stroke-width="0.9" />
<line x1="394.55" y1="581.30" x2="394.55" y2="586.40" stroke="#8c8c96" stroke-width="0.9" />
<line x1="398.70" y1="581.30" x2="398.70" y2="586.40" stroke="#8c8c96" stroke-width="0.9" />
<line x1="402.85" y1="581.30" x2="402.85" y2="586.40" stroke="#8c8c96" stroke-width="0.9" />
<line x1="407.00" y1="581.30" x2="407.00" y2="586.40" stroke="#8c8c96" stroke-width="0.9" />
<line x1="411.15" y1="581.30" x2="411.15" y2="586.40" stroke="#8c8c96" stroke-width="0.9" />
<line x1="415.30" y1="581.30" x2="415.30" y2="586.40" stroke="#8c8c96" stroke-width="0.9" />
<line x1="419.45" y1="581.30" x2="419.45" y2="586.40" stroke="#8c8c96" stroke-width="0.9" />
<line x1="423.60" y1="581.30" x2="423.60" y2="586.40" stroke="#8c8c96" stroke-width="0.9" />
<rect x="314.0" y="587.4" width="136.0" height="4.4" rx="2.2" fill="#7ad6ea" stroke="#3eaccb" stroke-width="1"/>
<text x="452.00" y="592.00" font-size="10.5" font-family="'Liberation Sans', sans-serif" font-weight="bold" fill="#222" textLength="9.20" lengthAdjust="spacingAndGlyphs" stroke="#222" stroke-width="0.2">5’</text>
<text x="332.10" y="602.70" font-size="10.8" font-family="'Liberation Sans', sans-serif" font-weight="bold" fill="#1a1a1a" textLength="58.00" lengthAdjust="spacingAndGlyphs" stroke="#1a1a1a" stroke-width="0.2">mRNA UTR</text>
<line x1="361.20" y1="608.40" x2="361.20" y2="631.20" stroke="#888" stroke-width="1.3" />
<line x1="355.20" y1="631.20" x2="367.40" y2="631.20" stroke="#888" stroke-width="1.6" />
<line x1="325.90" y1="637.70" x2="325.90" y2="654.50" stroke="#c8203c" stroke-width="1.3" />
<polygon points="323.70,653 328.10,653 325.90,658.3" fill="#c8203c"/>
<line x1="331.20" y1="637.70" x2="331.20" y2="654.50" stroke="#c8203c" stroke-width="1.3" />
<polygon points="329.00,653 333.40,653 331.20,658.3" fill="#c8203c"/>
<defs><linearGradient id="tg" x1="0" y1="0" x2="0" y2="1"><stop offset="0" stop-color="#4f94ea"/><stop offset="0.45" stop-color="#eaf2ff"/><stop offset="0.6" stop-color="#f4f8ff"/><stop offset="1" stop-color="#78b0f2"/></linearGradient><linearGradient id="gg" x1="0" y1="0" x2="0" y2="1"><stop offset="0" stop-color="#2fa640"/><stop offset="0.2" stop-color="#7fcc88"/><stop offset="0.5" stop-color="#f2faf2"/><stop offset="0.72" stop-color="#b6e4bc"/><stop offset="1" stop-color="#3cb24e"/></linearGradient><linearGradient id="pg" x1="0" y1="0" x2="1" y2="1"><stop offset="0" stop-color="#ece4f4"/><stop offset="0.5" stop-color="#f8f6fa"/><stop offset="1" stop-color="#f6f2e6"/></linearGradient><filter id="sh" x="-30%" y="-30%" width="160%" height="160%"><feGaussianBlur stdDeviation="2.5"/></filter></defs>
<rect x="339.5" y="639" width="48" height="23" fill="#c8c8d8" filter="url(#sh)" opacity="0.8"/>
<rect x="336.8" y="636.4" width="47.6" height="22.3" fill="url(#tg)"/>
<text x="342.90" y="652.80" font-size="15.4" font-family="'Liberation Sans', sans-serif" font-weight="bold" fill="#0a0a0a" stroke="#0a0a0a" stroke-width="0.45" textLength="34.50" lengthAdjust="spacingAndGlyphs" >Tigar</text>
<line x1="360.40" y1="666.20" x2="360.40" y2="683.00" stroke="#808080" stroke-width="1.6" />
<polygon points="356.4,680.5 364.5,680.5 360.4,687.6" fill="#808080"/>
<ellipse cx="363.5" cy="718.5" rx="41" ry="22" fill="#c8c8d8" filter="url(#sh)" opacity="0.7"/>
<ellipse cx="360.8" cy="715.3" rx="40.9" ry="22.1" fill="url(#gg)"/>
<text x="324.60" y="719.40" font-size="15.6" font-family="'Liberation Sans', sans-serif" font-weight="bold" fill="#0a0a0a" stroke="#0a0a0a" stroke-width="0.45" textLength="72.20" lengthAdjust="spacingAndGlyphs" >Glycolysis</text>
<line x1="309.00" y1="711.50" x2="309.00" y2="727.40" stroke="#3a3a8c" stroke-width="1.2" />
<polygon points="307.00,712 311.00,712 309.00,707.2" fill="#3a3a8c"/>
<line x1="314.50" y1="711.50" x2="314.50" y2="727.40" stroke="#3a3a8c" stroke-width="1.2" />
<polygon points="312.50,712 316.50,712 314.50,707.2" fill="#3a3a8c"/>
<polyline points="412.8,673.9 405.1,673.9 405.1,755.6 412.8,755.6" fill="none" stroke="#7a7a88" stroke-width="1.5"/>
<polyline points="583.6,674.2 592.3,674.2 592.3,755.8 583.6,755.8" fill="none" stroke="#7a7a88" stroke-width="1.5"/>
<line x1="419.90" y1="663.60" x2="419.90" y2="681.60" stroke="#3a3a8c" stroke-width="1.2" />
<polygon points="417.9,665.1 421.9,665.1 419.9,660.6" fill="#3a3a8c"/>
<line x1="419.90" y1="701.00" x2="419.90" y2="719.00" stroke="#3a3a8c" stroke-width="1.2" />
<polygon points="417.9,702.5 421.9,702.5 419.9,698.0" fill="#3a3a8c"/>
<line x1="419.90" y1="740.60" x2="419.90" y2="758.00" stroke="#3a3a8c" stroke-width="1.2" />
<polygon points="417.9,742.1 421.9,742.1 419.9,737.6" fill="#3a3a8c"/>
<text x="424.50" y="679.20" font-size="11.5" font-family="'Liberation Sans', sans-serif" font-weight="bold" fill="#1a1a1a" stroke="#1a1a1a" stroke-width="0.45" textLength="38.10" lengthAdjust="spacingAndGlyphs" >Lactate</text>
<text x="424.50" y="716.60" font-size="11.5" font-family="'Liberation Sans', sans-serif" font-weight="bold" fill="#1a1a1a" stroke="#1a1a1a" stroke-width="0.45" textLength="64.30" lengthAdjust="spacingAndGlyphs" >Pyruvic acid</text>
<text x="424.50" y="756.80" font-size="11.5" font-family="'Liberation Sans', sans-serif" font-weight="bold" fill="#1a1a1a" stroke="#1a1a1a" stroke-width="0.45" textLength="20.30" lengthAdjust="spacingAndGlyphs" >ATP</text>
<line x1="592.30" y1="714.00" x2="603.00" y2="714.00" stroke="#808080" stroke-width="1.6" />
<polygon points="601,710.5 601,717.5 607.9,714" fill="#808080"/>
<rect x="609.8" y="682.9" width="56.7" height="61.7" fill="url(#pg)" stroke="#c8b4c8" stroke-width="1"/>
<text x="611.40" y="710.20" font-size="20.6" font-family="'Liberation Sans', sans-serif" font-weight="bold" fill="#e00818" textLength="51.60" lengthAdjust="spacingAndGlyphs" stroke="#e00818" stroke-width="1.0">Promote</text>
<text x="619.80" y="734.80" font-size="20.6" font-family="'Liberation Sans', sans-serif" font-weight="bold" fill="#e00818" textLength="34.60" lengthAdjust="spacingAndGlyphs" stroke="#e00818" stroke-width="1.0">T-ALL</text>
<text x="472.3" y="670.2" font-size="5.5" font-family="'Liberation Sans', sans-serif" fill="#3a3a3a" text-anchor="middle" dominant-baseline="central">HO</text>
<polyline points="476.5,670 484.1,673.5 491.7,669 499,673.5" fill="none" stroke="#3a3a3a" stroke-width="0.95"/>
<polyline points="484.1,673.5 484.1,683" fill="none" stroke="#3a3a3a" stroke-width="0.95"/>
<polyline points="491.7,669 491.7,660" fill="none" stroke="#3a3a3a" stroke-width="0.95"/>
<polyline points="490.6,668.5 490.6,660" fill="none" stroke="#3a3a3a" stroke-width="0.95"/>
<text x="491.7" y="657.6" font-size="5.5" font-family="'Liberation Sans', sans-serif" fill="#3a3a3a" text-anchor="middle" dominant-baseline="central">O</text>
<text x="503.0" y="675.2" font-size="5.5" font-family="'Liberation Sans', sans-serif" fill="#3a3a3a" text-anchor="middle" dominant-baseline="central">OH</text>
<text x="487.0" y="686.6" font-size="5.5" font-family="'Liberation Sans', sans-serif" fill="#3a3a3a" text-anchor="middle" dominant-baseline="central">CH₃</text>
<text x="505.5" y="707.4" font-size="5.5" font-family="'Liberation Sans', sans-serif" fill="#3a3a3a" text-anchor="middle" dominant-baseline="central">HO</text>
<polyline points="509.5,707.6 516.8,711.8 524.4,707.4 532,711.8" fill="none" stroke="#3a3a3a" stroke-width="0.95"/>
<polyline points="524.4,707.4 524.4,698.5" fill="none" stroke="#3a3a3a" stroke-width="0.95"/>
<polyline points="523.3,707 523.3,698.5" fill="none" stroke="#3a3a3a" stroke-width="0.95"/>
<polyline points="516.8,711.8 516.8,720.5" fill="none" stroke="#3a3a3a" stroke-width="0.95"/>
<polyline points="515.7,712 515.7,720.5" fill="none" stroke="#3a3a3a" stroke-width="0.95"/>
<text x="524.4" y="695.8" font-size="5.5" font-family="'Liberation Sans', sans-serif" fill="#3a3a3a" text-anchor="middle" dominant-baseline="central">O</text>
<text x="516.8" y="723.0" font-size="5.5" font-family="'Liberation Sans', sans-serif" fill="#3a3a3a" text-anchor="middle" dominant-baseline="central">O</text>
<text x="536.3" y="713.0" font-size="5.5" font-family="'Liberation Sans', sans-serif" fill="#3a3a3a" text-anchor="middle" dominant-baseline="central">OH</text>
<text x="452.8" y="749.8" font-size="5.5" font-family="'Liberation Sans', sans-serif" fill="#3a3a3a" text-anchor="middle" dominant-baseline="central">HO</text>
<polyline points="457,749.8 465.7,749.8 476.2,749.8 486.7,749.8 497.2,749.8 507.7,749.8 519,749.8 528.2,750 530.5,758.2" fill="none" stroke="#3a3a3a" stroke-width="0.95"/>
<polyline points="465.0,748 465.0,740" fill="none" stroke="#3a3a3a" stroke-width="0.95"/>
<polyline points="466.4,748 466.4,740" fill="none" stroke="#3a3a3a" stroke-width="0.95"/>
<polyline points="465.7,751.5 465.7,759.5" fill="none" stroke="#3a3a3a" stroke-width="0.95"/>
<text x="465.7" y="737.4" font-size="5.5" font-family="'Liberation Sans', sans-serif" fill="#3a3a3a" text-anchor="middle" dominant-baseline="central">O</text>
<text x="465.7" y="762.6" font-size="5.5" font-family="'Liberation Sans', sans-serif" fill="#3a3a3a" text-anchor="middle" dominant-baseline="central">OH</text>
<text x="465.7" y="749.8" font-size="5.5" font-family="'Liberation Sans', sans-serif" fill="#3a3a3a" text-anchor="middle" dominant-baseline="central">P</text>
<polyline points="486.0,748 486.0,740" fill="none" stroke="#3a3a3a" stroke-width="0.95"/>
<polyline points="487.4,748 487.4,740" fill="none" stroke="#3a3a3a" stroke-width="0.95"/>
<polyline points="486.7,751.5 486.7,759.5" fill="none" stroke="#3a3a3a" stroke-width="0.95"/>
<text x="486.7" y="737.4" font-size="5.5" font-family="'Liberation Sans', sans-serif" fill="#3a3a3a" text-anchor="middle" dominant-baseline="central">O</text>
<text x="486.7" y="762.6" font-size="5.5" font-family="'Liberation Sans', sans-serif" fill="#3a3a3a" text-anchor="middle" dominant-baseline="central">OH</text>
<text x="486.7" y="749.8" font-size="5.5" font-family="'Liberation Sans', sans-serif" fill="#3a3a3a" text-anchor="middle" dominant-baseline="central">P</text>
<polyline points="507.0,748 507.0,740" fill="none" stroke="#3a3a3a" stroke-width="0.95"/>
<polyline points="508.4,748 508.4,740" fill="none" stroke="#3a3a3a" stroke-width="0.95"/>
<polyline points="507.7,751.5 507.7,759.5" fill="none" stroke="#3a3a3a" stroke-width="0.95"/>
<text x="507.7" y="737.4" font-size="5.5" font-family="'Liberation Sans', sans-serif" fill="#3a3a3a" text-anchor="middle" dominant-baseline="central">O</text>
<text x="507.7" y="762.6" font-size="5.5" font-family="'Liberation Sans', sans-serif" fill="#3a3a3a" text-anchor="middle" dominant-baseline="central">OH</text>
<text x="507.7" y="749.8" font-size="5.5" font-family="'Liberation Sans', sans-serif" fill="#3a3a3a" text-anchor="middle" dominant-baseline="central">P</text>
<text x="476.2" y="749.8" font-size="5.5" font-family="'Liberation Sans', sans-serif" fill="#3a3a3a" text-anchor="middle" dominant-baseline="central">O</text>
<text x="497.2" y="749.8" font-size="5.5" font-family="'Liberation Sans', sans-serif" fill="#3a3a3a" text-anchor="middle" dominant-baseline="central">O</text>
<text x="519.0" y="749.8" font-size="5.5" font-family="'Liberation Sans', sans-serif" fill="#3a3a3a" text-anchor="middle" dominant-baseline="central">O</text>
<polyline points="530.5,758.2 541.5,753.6" fill="none" stroke="#3a3a3a" stroke-width="0.95"/>
<polyline points="547.5,753.6 557.4,758.2 553.3,765.7 535.2,765.7 530.5,758.2" fill="none" stroke="#3a3a3a" stroke-width="0.95"/>
<polygon points="535.2,764.6 553.3,764.9 553.3,766.6 535.2,766.9" fill="#333"/>
<polyline points="535.2,765.7 537.0,771.5" fill="none" stroke="#3a3a3a" stroke-width="0.95"/>
<polyline points="553.3,765.7 554.6,771.5" fill="none" stroke="#3a3a3a" stroke-width="0.95"/>
<text x="537.5" y="774.8" font-size="5.5" font-family="'Liberation Sans', sans-serif" fill="#3a3a3a" text-anchor="middle" dominant-baseline="central">OH</text>
<text x="554.8" y="774.8" font-size="5.5" font-family="'Liberation Sans', sans-serif" fill="#3a3a3a" text-anchor="middle" dominant-baseline="central">OH</text>
<text x="544.5" y="752.3" font-size="5.5" font-family="'Liberation Sans', sans-serif" fill="#3a3a3a" text-anchor="middle" dominant-baseline="central">O</text>
<polyline points="557.4,758.2 559.1,750.2" fill="none" stroke="#3a3a3a" stroke-width="0.95"/>
<polyline points="557.6,747.5 552.1,739.5 555.9,731.3" fill="none" stroke="#3a3a3a" stroke-width="0.95"/>
<polyline points="553.6,739.9 557.0,732.6" fill="none" stroke="#3a3a3a" stroke-width="0.95"/>
<polyline points="559.2,729.9 568.5,733 568.5,745.9 561.2,747.6" fill="none" stroke="#3a3a3a" stroke-width="0.95"/>
<polyline points="568.5,733 577.2,727.8 584.8,732.1" fill="none" stroke="#3a3a3a" stroke-width="0.95"/>
<polyline points="577.4,729.6 584.0,733.4" fill="none" stroke="#3a3a3a" stroke-width="0.95"/>
<polyline points="586.6,735 586.6,742.4 579.2,748.6" fill="none" stroke="#3a3a3a" stroke-width="0.95"/>
<polyline points="585.4,741.2 578.8,746.6" fill="none" stroke="#3a3a3a" stroke-width="0.95"/>
<polyline points="575.4,749.0 568.5,745.9" fill="none" stroke="#3a3a3a" stroke-width="0.95"/>
<polyline points="577.2,727.8 577.2,721.2" fill="none" stroke="#3a3a3a" stroke-width="0.95"/>
<text x="580.2" y="716.4" font-size="5.6" font-family="'Liberation Sans', sans-serif" fill="#3a3a3a" text-anchor="middle" dominant-baseline="central">NH₂</text>
<text x="557.1" y="729.5" font-size="5" font-family="'Liberation Sans', sans-serif" fill="#3a3a3a" text-anchor="middle" dominant-baseline="central">N</text>
<text x="586.6" y="733.4" font-size="5" font-family="'Liberation Sans', sans-serif" fill="#3a3a3a" text-anchor="middle" dominant-baseline="central">N</text>
<text x="577.2" y="750.2" font-size="5" font-family="'Liberation Sans', sans-serif" fill="#3a3a3a" text-anchor="middle" dominant-baseline="central">N</text>
<text x="559.3" y="748.6" font-size="5" font-family="'Liberation Sans', sans-serif" fill="#3a3a3a" text-anchor="middle" dominant-baseline="central">N</text>
</svg>
</body></html>
